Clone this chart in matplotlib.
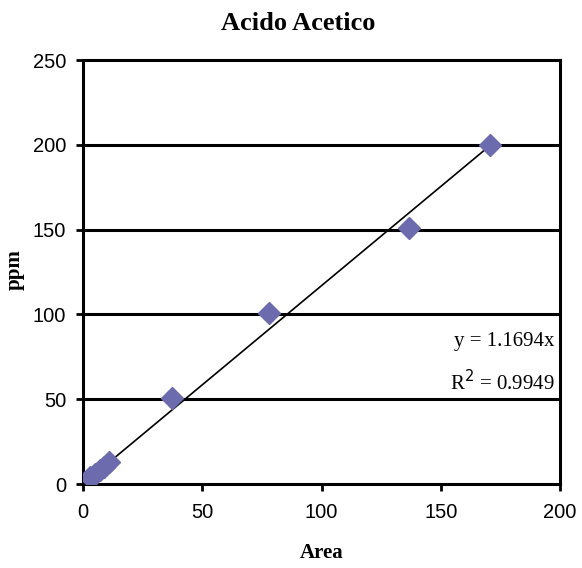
import matplotlib
matplotlib.use("Agg")
import matplotlib.pyplot as plt
import numpy as np

# Calibration data: peak area vs concentration (ppm)
area = [3, 5, 7, 9, 11, 37.5, 78, 136.5, 170.5]
ppm = [4, 6, 8, 10, 13, 51, 101, 151, 200]
slope = 1.1694
r2 = 0.9949

x_ticks = [0, 50, 100, 150, 200]
y_ticks = [0, 50, 100, 150, 200, 250]

serif = ["Liberation Serif", "DejaVu Serif"]
sans = ["Liberation Sans", "DejaVu Sans"]

W, H = 582, 568
fig = plt.figure(figsize=(W / 100, H / 100), dpi=100)
ax = fig.add_axes([83 / W, 84 / H, 477 / W, 424 / H])

# horizontal gridlines
for yv in y_ticks[1:-1]:
    ax.axhline(yv, color="black", lw=2.2, zorder=1)

# linear trendline through origin over the data range
xs = np.array([min(area), max(area)])
ax.plot(xs, slope * xs, color="black", lw=1.2, zorder=2)

ax.plot(area, ppm, linestyle="none", marker="D", markersize=11,
        color="#6B6BAE", markeredgecolor="#6B6BAE", zorder=3)

ax.set_xlim(0, 200)
ax.set_ylim(0, 250)
ax.set_xticks(x_ticks)
ax.set_yticks(y_ticks)
for s in ax.spines.values():
    s.set_linewidth(2.2)
ax.tick_params(direction="out", length=5, width=2)
ax.tick_params(axis="x", pad=9)
ax.tick_params(axis="y", pad=7)
for lab in ax.get_xticklabels() + ax.get_yticklabels():
    lab.set_family(sans)
    lab.set_fontsize(14.5)

fig.text(298 / W, 1 - 23 / H, "Acido Acetico", family=serif,
         fontweight="bold", fontsize=19, ha="center", va="center")
fig.text((83 + 477 / 2) / W, 1 - 553 / H, "Area", family=serif,
         fontweight="bold", fontsize=15, ha="center", va="center")
fig.text(15 / W, 1 - 270 / H, "ppm", family=serif, fontweight="bold",
         fontsize=15, ha="center", va="center", rotation=90)

ax.text(0.988, 0.335, f"y = {slope}x", transform=ax.transAxes, ha="right",
        va="center", family=serif, fontsize=15)
ax.text(0.988, 0.238, f"R$^2$ = {r2}", transform=ax.transAxes, ha="right",
        va="center", family=serif, fontsize=15)

fig.savefig("out.png", dpi=100)
